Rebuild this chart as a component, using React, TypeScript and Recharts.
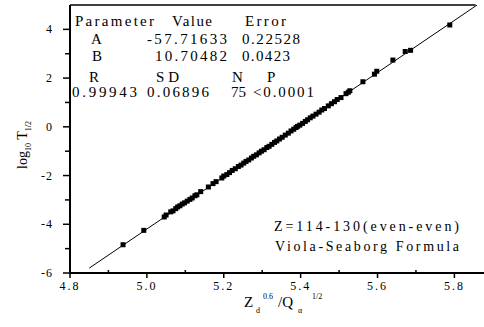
import { ScatterChart, Scatter, XAxis, YAxis, ReferenceLine } from "recharts";

const xValues = [
  4.938, 4.992, 5.045, 5.05, 5.062, 5.068, 5.075, 5.08, 5.086, 5.092,
  5.098, 5.105, 5.112, 5.118, 5.125, 5.13, 5.14, 5.16, 5.172, 5.18,
  5.195, 5.2, 5.208, 5.215, 5.222, 5.23, 5.238, 5.245, 5.252, 5.258,
  5.265, 5.272, 5.278, 5.285, 5.292, 5.298, 5.305, 5.312, 5.318, 5.325,
  5.332, 5.338, 5.345, 5.352, 5.36, 5.368, 5.375, 5.382, 5.388, 5.392,
  5.398, 5.405, 5.412, 5.418, 5.425, 5.432, 5.44, 5.448, 5.455, 5.462,
  5.472, 5.48, 5.488, 5.495, 5.505, 5.518, 5.524, 5.528, 5.562, 5.592,
  5.598, 5.64, 5.672, 5.686, 5.788,
];
const yValues = [
  -4.84, -4.25, -3.7, -3.62, -3.49, -3.45, -3.36, -3.29, -3.24, -3.17,
  -3.12, -3.05, -2.98, -2.92, -2.83, -2.79, -2.66, -2.47, -2.33, -2.25,
  -2.1, -2.02, -1.96, -1.88, -1.79, -1.72, -1.63, -1.57, -1.49, -1.42,
  -1.36, -1.28, -1.21, -1.15, -1.07, -1.0, -0.94, -0.85, -0.8, -0.72,
  -0.64, -0.58, -0.5, -0.43, -0.34, -0.26, -0.17, -0.1, -0.03, 0.02,
  0.07, 0.14, 0.22, 0.29, 0.37, 0.44, 0.52, 0.6, 0.69, 0.75,
  0.86, 0.95, 1.03, 1.12, 1.2, 1.36, 1.42, 1.48, 1.85, 2.16,
  2.28, 2.74, 3.09, 3.14, 4.18,
];

// fitted line end points
const fitX = [4.85, 5.859];
const fitY = [-5.8, 5.0];

const xTicks = [4.8, 4.9, 5.0, 5.1, 5.2, 5.3, 5.4, 5.5, 5.6, 5.7, 5.8];
const xTickLabels = ["4.8", "", "5.0", "", "5.2", "", "5.4", "", "5.6", "", "5.8"];
const yTicks = [-6, -5, -4, -3, -2, -1, 0, 1, 2, 3, 4];
const yTickLabels = ["-6", "", "-4", "", "-2", "", "0", "", "2", "", "4"];

const points = xValues.map((x, i) => ({ x, y: yValues[i] }));
const fitLine = fitX.map((x, i) => ({ x, y: fitY[i] }));

const FONT = "Times New Roman, Liberation Serif, DejaVu Serif, serif";

function XTick(props: any) {
  const { x, y, index } = props;
  const label = xTickLabels[index];
  if (!label) {
    return <line x1={x} y1={y} x2={x} y2={y - 3} stroke="#000" strokeWidth={1.5} />;
  }
  return (
    <g>
      <line x1={x} y1={y} x2={x} y2={y + 5} stroke="#000" strokeWidth={1.5} />
      <text x={x} y={y + 17} textAnchor="middle" fontSize={12} letterSpacing={2} fill="#000" fontFamily={FONT}>
        {label}
      </text>
    </g>
  );
}

function YTick(props: any) {
  const { x, y, index } = props;
  const label = yTickLabels[index];
  if (!label) {
    return <line x1={x} y1={y} x2={x - 5} y2={y} stroke="#000" strokeWidth={1.5} />;
  }
  return (
    <g>
      <line x1={x} y1={y} x2={x - 7} y2={y} stroke="#000" strokeWidth={1.5} />
      <text x={x - 17} y={y + 4} textAnchor="end" fontSize={12} letterSpacing={1} fill="#000" fontFamily={FONT}>
        {label}
      </text>
    </g>
  );
}

function Square(props: any) {
  const { cx, cy } = props;
  return <rect x={cx - 2.5} y={cy - 2.5} width={5} height={5} fill="#000" />;
}

function Nothing() {
  return <g />;
}

const t = { fontFamily: FONT, fontSize: 15, fill: "#000", letterSpacing: 1 };

export default function App() {
  return (
    <div style={{ position: "absolute", left: 0, top: 0, width: 484, height: 327, background: "#fff" }}>
      <ScatterChart width={484} height={327} margin={{ top: 5, right: 0, bottom: 0, left: 0 }}>
        <XAxis
          type="number"
          dataKey="x"
          domain={[4.8, 5.877]}
          ticks={xTicks}
          interval={0}
          height={54}
          tickSize={0}
          tickMargin={0}
          tickLine={false}
          axisLine={{ stroke: "#000", strokeWidth: 2 }}
          tick={<XTick />}
          allowDataOverflow
        />
        <YAxis
          type="number"
          dataKey="y"
          domain={[-6, 5]}
          ticks={yTicks}
          interval={0}
          width={70}
          tickSize={0}
          tickMargin={0}
          tickLine={false}
          axisLine={{ stroke: "#000", strokeWidth: 2 }}
          tick={<YTick />}
          allowDataOverflow
        />
        <ReferenceLine
          segment={[{ x: 4.8, y: 5 }, { x: 5.855, y: 5 }]}
          stroke="#000"
          strokeWidth={1.5}
        />
        <Scatter
          data={fitLine}
          line={{ stroke: "#000", strokeWidth: 1 }}
          shape={<Nothing />}
          isAnimationActive={false}
        />
        <Scatter data={points} shape={<Square />} isAnimationActive={false} />
      </ScatterChart>
      <svg
        width={484}
        height={327}
        style={{ position: "absolute", left: 0, top: 0, pointerEvents: "none" }}
      >
        <text x={75} y={26} {...t} textLength={80} lengthAdjust="spacing">Parameter</text>
        <text x={172} y={26} {...t} textLength={41} lengthAdjust="spacing">Value</text>
        <text x={245} y={26} {...t} textLength={42} lengthAdjust="spacing">Error</text>

        <text x={91} y={44} {...t}>A</text>
        <text x={147} y={44} {...t} textLength={81} lengthAdjust="spacing">-57.71633</text>
        <text x={242} y={44} {...t} textLength={59} lengthAdjust="spacing">0.22528</text>

        <text x={92} y={61} {...t}>B</text>
        <text x={155} y={61} {...t} textLength={73} lengthAdjust="spacing">10.70482</text>
        <text x={242} y={61} {...t} textLength={49} lengthAdjust="spacing">0.0423</text>

        <text x={89} y={82} {...t}>R</text>
        <text x={156} y={82} {...t} textLength={24} lengthAdjust="spacing">SD</text>
        <text x={232} y={82} {...t}>N</text>
        <text x={267} y={82} {...t}>P</text>

        <text x={72} y={97} {...t} textLength={66} lengthAdjust="spacing">0.99943</text>
        <text x={147} y={97} {...t} textLength={63} lengthAdjust="spacing">0.06896</text>
        <text x={231} y={97} {...t} textLength={16} lengthAdjust="spacing">75</text>
        <text x={253} y={97} {...t} textLength={62} lengthAdjust="spacing">&lt;0.0001</text>

        <text x={274} y={231} {...t} fontSize={14} textLength={186} lengthAdjust="spacing">
          Z=114-130(even-even)
        </text>
        <text x={275} y={251} {...t} fontSize={14} textLength={185} lengthAdjust="spacing">
          Viola-Seaborg Formula
        </text>

        <text y={307} fontFamily={FONT} fontSize={15} fill="#000">
          <tspan x={244}>Z</tspan>
          <tspan x={256} dy={6} fontSize={8}>d</tspan>
          <tspan x={263} dy={-14} fontSize={8}>0.6</tspan>
          <tspan x={278} dy={8} fontSize={15}>/Q</tspan>
          <tspan x={298} dy={6} fontSize={8}>α</tspan>
          <tspan x={312} dy={-14} fontSize={8}>1/2</tspan>
        </text>

        <text
          x={0}
          y={0}
          transform="translate(27,145) rotate(-90)"
          textAnchor="middle"
          fontFamily={FONT}
          fontSize={14}
          fill="#000"
        >
          log
          <tspan dy={4} fontSize={8}>10</tspan>
          <tspan dy={-4} fontSize={14}> T</tspan>
          <tspan dy={4} fontSize={8}>1/2</tspan>
        </text>
      </svg>
    </div>
  );
}
